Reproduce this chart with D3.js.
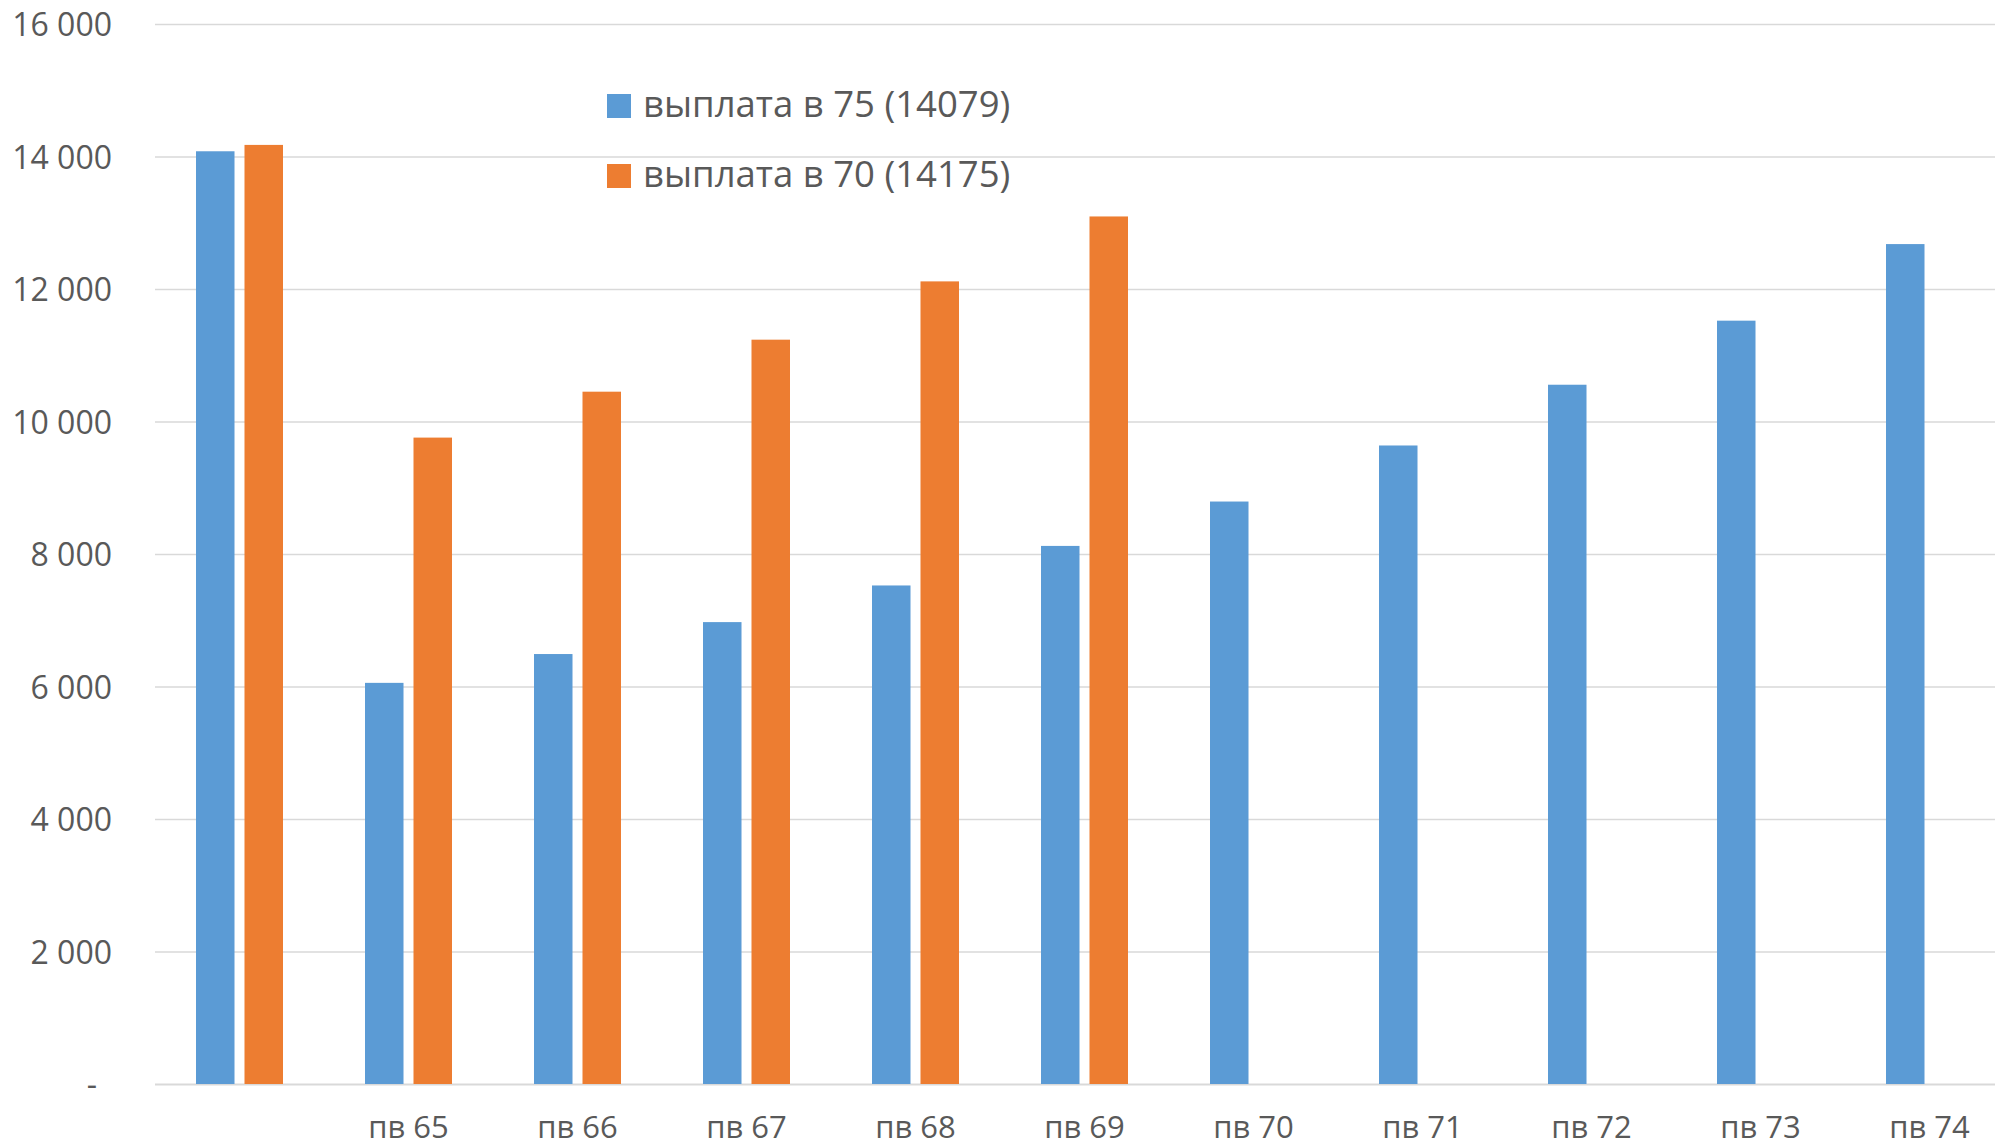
<!DOCTYPE html>
<html>
<head>
<meta charset="utf-8">
<script src="https://cdn.jsdelivr.net/npm/d3@7"></script>
<style>
  html, body { margin: 0; padding: 0; background: #fff; }
  svg { display: block; }
  text { font-family: "Open Sans", "Noto Sans", "DejaVu Sans", sans-serif; fill: #595959; }
</style>
</head>
<body>
<svg id="chart" width="1995" height="1148"></svg>
<script>
// ---- data ----
const categories = ["", "пв 65", "пв 66", "пв 67", "пв 68", "пв 69", "пв 70", "пв 71", "пв 72", "пв 73", "пв 74"];
const seriesNames = ["выплата в 75 (14079)", "выплата в 70 (14175)"];
const seriesKeys = ["s75", "s70"];
const values75 = [14079, 6055, 6490, 6972, 7525, 8122, 8792, 9638, 10555, 11522, 12678];
const values70 = [14175, 9757, 10450, 11235, 12115, 13095, null, null, null, null, null];
const yTicks = [0, 2000, 4000, 6000, 8000, 10000, 12000, 14000, 16000];
const yTickLabels = ["-", "2 000", "4 000", "6 000", "8 000", "10 000", "12 000", "14 000", "16 000"];
const colors = ["#5B9BD5", "#ED7D31"];

// ---- layout ----
const W = 1995, H = 1148;
const plot = { left: 155, right: 2014, top: 24, bottom: 1084 };

const svg = d3.select("#chart");

const x0 = d3.scaleBand().domain(d3.range(categories.length)).range([plot.left, plot.right]).paddingInner(0).paddingOuter(0);
const step = x0.bandwidth();
const groupInner = 87;
const x1 = d3.scaleBand().domain(seriesKeys).range([(step - groupInner) / 2, (step + groupInner) / 2]).paddingInner(0.206).paddingOuter(0);
const y = d3.scaleLinear().domain([0, 16000]).range([plot.bottom, plot.top]);

// gridlines
const yAxis = d3.axisLeft(y).tickValues(yTicks).tickSize(-(W - plot.left)).tickFormat((d, i) => yTickLabels[i]).tickPadding(42);
const gy = svg.append("g").attr("transform", `translate(${plot.left},0)`).call(yAxis);
gy.select(".domain").remove();
gy.selectAll(".tick line").attr("stroke", "#D9D9D9").attr("stroke-width", d => d === 0 ? 2 : 1.6);
gy.selectAll(".tick text")
  .attr("font-size", 32)
  .attr("fill", "#595959")
  .attr("x", d => d === 0 ? -58 : -43)
  .attr("dy", "0.36em");

// bars
const rows = categories.map((c, i) => ({ i, s75: values75[i], s70: values70[i] }));
const groups = svg.append("g").selectAll("g").data(rows).join("g")
  .attr("transform", d => `translate(${x0(d.i)},0)`);
groups.selectAll("rect")
  .data(d => seriesKeys.map((k, j) => ({ key: k, j, v: d[k] })).filter(e => e.v != null))
  .join("rect")
  .attr("x", e => x1(e.key))
  .attr("width", x1.bandwidth())
  .attr("y", e => y(e.v))
  .attr("height", e => y(0) - y(e.v))
  .attr("fill", e => colors[e.j]);

// x axis labels
const xAxis = d3.axisBottom(x0).tickSize(0).tickFormat(i => categories[i]).tickPadding(0);
const gx = svg.append("g").attr("transform", `translate(0,${plot.bottom})`).call(xAxis);
gx.select(".domain").remove();
gx.selectAll(".tick text").attr("font-size", 31).attr("fill", "#595959").attr("dy", null).attr("y", 54);

// legend
const legend = svg.append("g").attr("transform", "translate(607,94)");
const li = legend.selectAll("g").data(seriesNames).join("g")
  .attr("transform", (d, i) => `translate(0,${i * 70})`);
li.append("rect").attr("width", 24).attr("height", 24).attr("fill", (d, i) => colors[i]);
li.append("text").attr("x", 36).attr("y", 23).attr("font-size", 36.5).attr("fill", "#595959").text(d => d);
</script>
</body>
</html>
